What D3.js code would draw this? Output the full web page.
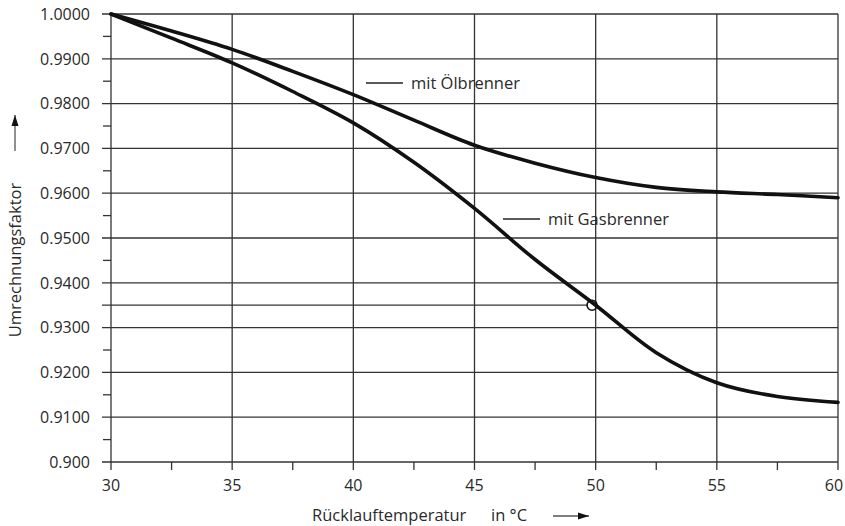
<!DOCTYPE html>
<html><head><meta charset="utf-8">
<script src="https://cdn.jsdelivr.net/npm/d3@7"></script>
<style>
html,body{margin:0;padding:0;background:#fff;}
text{font-family:"Open Sans","Noto Sans",sans-serif;fill:#2a2a2a;}
</style></head>
<body>
<svg id="chart" width="845" height="526"></svg>
<script>
// ---- data ----
const temps = [30, 32.5, 35, 37.5, 40, 42.5, 45, 47.5, 50, 52.5, 55, 57.5, 60];
const oelValues = [1.0000, 0.9962, 0.9921, 0.9872, 0.9820, 0.9763, 0.9707, 0.9667, 0.9635, 0.9613, 0.9603, 0.9597, 0.9590];
const gasValues = [1.0000, 0.9946, 0.9891, 0.9827, 0.9757, 0.9669, 0.9566, 0.9452, 0.9350, 0.9244, 0.9177, 0.9146, 0.9133];
const seriesNames = ["mit Ölbrenner", "mit Gasbrenner"];
const xTickValues = [30, 35, 40, 45, 50, 55, 60];
const xMinorValues = [32.5, 37.5, 42.5, 47.5, 52.5, 57.5];
const yTickValues = [0.90, 0.91, 0.92, 0.93, 0.94, 0.95, 0.96, 0.97, 0.98, 0.99, 1.00];
const yTickLabels = ["0.900", "0.9100", "0.9200", "0.9300", "0.9400", "0.9500", "0.9600", "0.9700", "0.9800", "0.9900", "1.0000"];
const yMinorValues = [0.905, 0.915, 0.925, 0.945, 0.955, 0.965, 0.975, 0.985, 0.995];
const markPoint = {t: 49.85, v: 0.935};
const xTitle = "Rücklauftemperatur";
const xUnit = "in °C";
const yTitle = "Umrechnungsfaktor";

// ---- drawing ----
const svg = d3.select("#chart");
const x = d3.scaleLinear().domain([30, 60]).range([111, 838]);
const y = d3.scaleLinear().domain([0.90, 1.00]).range([462, 14]);
const gridColor = "#333";

const defs = svg.append("defs");
defs.append("marker").attr("id", "arrow").attr("viewBox", "0 0 10 10")
  .attr("refX", 10).attr("refY", 5).attr("markerWidth", 11).attr("markerHeight", 11)
  .attr("markerUnits", "userSpaceOnUse").attr("orient", "auto")
  .append("path").attr("d", "M0,1.8 L10,5 L0,8.2 Z").attr("fill", "#111");

// horizontal grid lines (extend left past axis as major ticks)
svg.append("g").selectAll("line").data(yTickValues).join("line")
  .attr("x1", 102).attr("x2", x(60))
  .attr("y1", d => y(d)).attr("y2", d => y(d))
  .attr("stroke", gridColor).attr("stroke-width", 1.3);

// vertical grid lines
svg.append("g").selectAll("line").data(xTickValues).join("line")
  .attr("x1", d => x(d)).attr("x2", d => x(d))
  .attr("y1", y(1.0)).attr("y2", y(0.9) + 8)
  .attr("stroke", gridColor).attr("stroke-width", 1.3);

// minor ticks
svg.append("g").selectAll("line").data(yMinorValues).join("line")
  .attr("x1", 103).attr("x2", x(30))
  .attr("y1", d => y(d)).attr("y2", d => y(d))
  .attr("stroke", gridColor).attr("stroke-width", 1.3);
svg.append("g").selectAll("line").data(xMinorValues).join("line")
  .attr("x1", d => x(d)).attr("x2", d => x(d))
  .attr("y1", y(0.9)).attr("y2", y(0.9) + 8)
  .attr("stroke", gridColor).attr("stroke-width", 1.3);

// marker line at 0.935
svg.append("line")
  .attr("x1", 102).attr("x2", x(markPoint.t) - 5)
  .attr("y1", y(markPoint.v)).attr("y2", y(markPoint.v))
  .attr("stroke", gridColor).attr("stroke-width", 1.3);

// tick labels
svg.append("g").selectAll("text").data(yTickValues).join("text")
  .attr("x", 90).attr("y", d => y(d)).attr("dy", "0.36em")
  .attr("text-anchor", "end").attr("font-size", 16)
  .text((d, i) => yTickLabels[i]);
svg.append("g").selectAll("text").data(xTickValues).join("text")
  .attr("x", d => Math.min(x(d), 834)).attr("y", 491)
  .attr("text-anchor", "middle").attr("font-size", 16)
  .text(d => d);

// curves
const line = d3.line().x((d, i) => x(temps[i])).y(d => y(d)).curve(d3.curveCatmullRom.alpha(0.5));
[oelValues, gasValues].forEach(vals => {
  svg.append("path").attr("d", line(vals))
    .attr("fill", "none").attr("stroke", "#111").attr("stroke-width", 3.6)
    .attr("stroke-linejoin", "round").attr("stroke-linecap", "round");
});

// circle marker
svg.append("circle").attr("cx", x(markPoint.t)).attr("cy", y(markPoint.v)).attr("r", 5)
  .attr("fill", "none").attr("stroke", "#111").attr("stroke-width", 1.6);

// series labels
const labelPos = [{x1: 366, x2: 403, y: 83, tx: 411}, {x1: 503, x2: 540, y: 219, tx: 548}];
seriesNames.forEach((name, i) => {
  const p = labelPos[i];
  svg.append("line").attr("x1", p.x1).attr("x2", p.x2).attr("y1", p.y).attr("y2", p.y)
    .attr("stroke", "#222").attr("stroke-width", 1.6);
  svg.append("text").attr("x", p.tx).attr("y", p.y).attr("dy", "0.35em")
    .attr("font-size", 16.5).text(name);
});

// axis titles
svg.append("text").attr("x", 312).attr("y", 521).attr("font-size", 16.5).text(xTitle);
svg.append("text").attr("x", 491).attr("y", 521).attr("font-size", 16.5).text(xUnit);
svg.append("line").attr("x1", 553).attr("x2", 589).attr("y1", 516).attr("y2", 516)
  .attr("stroke", "#555").attr("stroke-width", 1.3).attr("marker-end", "url(#arrow)");

svg.append("text").attr("transform", "translate(21,260) rotate(-90)")
  .attr("text-anchor", "middle").attr("font-size", 16.5).text(yTitle);
svg.append("line").attr("x1", 15).attr("x2", 15).attr("y1", 151).attr("y2", 115)
  .attr("stroke", "#555").attr("stroke-width", 1.3).attr("marker-end", "url(#arrow)");
</script>
</body></html>
